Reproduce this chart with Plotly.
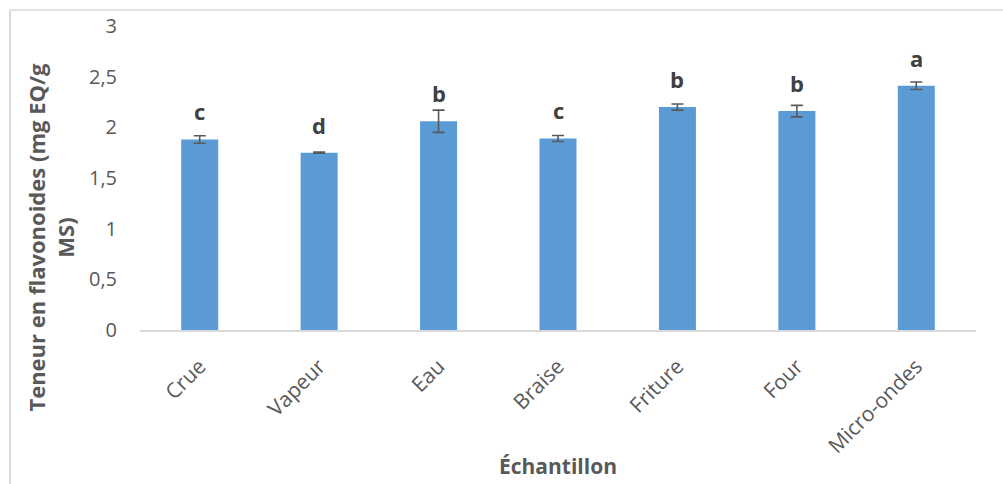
import plotly.graph_objects as go

# Flavonoid content per cooking method
echantillons = ["Crue", "Vapeur", "Eau", "Braise", "Friture", "Four", "Micro-ondes"]
teneur = [1.88, 1.75, 2.06, 1.89, 2.20, 2.16, 2.41]
ecart_type = [0.037, 0.005, 0.11, 0.03, 0.03, 0.057, 0.037]
groupes = ["c", "d", "b", "c", "b", "b", "a"]
y_ticks = [0, 0.5, 1, 1.5, 2, 2.5, 3]
y_tick_labels = ["0", "0,5", "1", "1,5", "2", "2,5", "3"]

W, H = 1003, 484
ML, MR, MT, MB = 140, 27, 24, 154
pw, ph = W - ML - MR, H - MT - MB


def px(xp):
    return (xp - ML) / pw


def py(yp):
    return (H - MB - yp) / ph


fig = go.Figure()
fig.add_trace(go.Bar(
    x=echantillons, y=teneur,
    width=0.31,
    marker=dict(color="#5b9bd5", line=dict(color="#5b9bd5", width=0)),
    error_y=dict(type="data", array=ecart_type, visible=True,
                 color="#595959", thickness=1.6, width=6),
    hoverinfo="skip",
))

# Significance letters above each bar
for cat, val, lettre in zip(echantillons, teneur, groupes):
    fig.add_annotation(x=cat, y=val, text=f"<b>{lettre}</b>", showarrow=False,
                       yanchor="bottom", yshift=11,
                       font=dict(family="Open Sans", size=22, color="#404040"))

# Axis titles
fig.add_annotation(xref="paper", yref="paper",
                   x=px(51), y=py(237),
                   xanchor="center", yanchor="middle",
                   text="<b>Teneur en flavonoides (mg EQ/g<br>MS)</b>",
                   textangle=-90, showarrow=False,
                   font=dict(family="Open Sans", size=22, color="#595959"))
fig.add_annotation(xref="paper", yref="paper",
                   x=px(558), y=py(467),
                   xanchor="center", yanchor="middle",
                   text="<b>Échantillon</b>", showarrow=False,
                   font=dict(family="Open Sans", size=21, color="#595959"))

# Chart-area border (top and left edges)
fig.add_shape(type="line", xref="paper", yref="paper",
              x0=px(10), x1=px(1010), y0=py(8), y1=py(8),
              line=dict(color="#d9d9d9", width=1.5), layer="below")
fig.add_shape(type="line", xref="paper", yref="paper",
              x0=px(10), x1=px(10), y0=py(8), y1=py(500),
              line=dict(color="#d9d9d9", width=2), layer="below")

fig.update_layout(
    width=W, height=H,
    margin=dict(l=ML, r=MR, t=MT, b=MB),
    paper_bgcolor="white", plot_bgcolor="white",
    showlegend=False,
    font=dict(family="Open Sans", color="#595959"),
    xaxis=dict(
        tickangle=-45, tickfont=dict(size=21, color="#595959"),
        showline=True, linecolor="#d9d9d9", linewidth=1.5,
        showgrid=False, ticks="", ticklen=0,
        ticklabelstandoff=14,
    ),
    yaxis=dict(
        range=[0, 3],
        tickvals=y_ticks, ticktext=y_tick_labels,
        tickfont=dict(size=20, color="#595959"),
        showgrid=False, showline=False, zeroline=False, ticks="",
        ticklabelstandoff=22,
    ),
)

fig.write_html("out.html")
